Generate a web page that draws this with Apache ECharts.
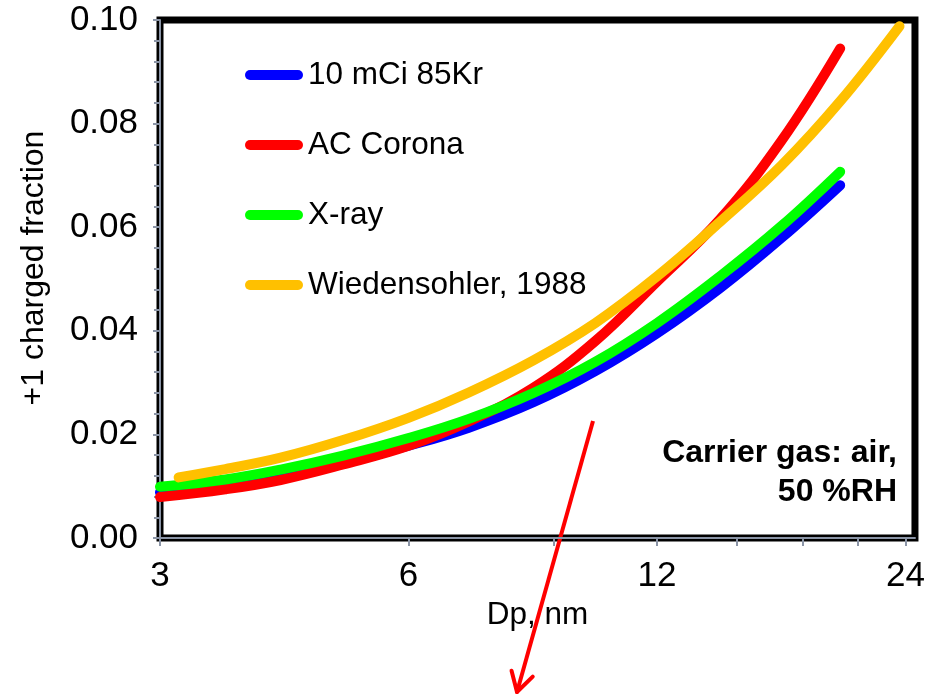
<!DOCTYPE html>
<html>
<head>
<meta charset="utf-8">
<script src="https://cdn.jsdelivr.net/npm/echarts@6/dist/echarts.min.js"></script>
<style>
  html, body { margin: 0; padding: 0; background: #ffffff; }
  #chart { width: 928px; height: 695px; }
</style>
</head>
<body>
<div id="chart"></div>
<script>
// Particle diameter (nm) for the three measured chargers
const dpMeasured = [3, 3.6, 4.2, 5, 6, 7.1, 8.5, 10.1, 12, 14.3, 17, 20];
// +1 charged fraction per charger
const kr85 = [0.0088, 0.0104, 0.0121, 0.0146, 0.0178, 0.0213, 0.0262, 0.0322, 0.0395, 0.0482, 0.0580, 0.0681];
const acCorona = [0.0079, 0.0094, 0.0112, 0.0142, 0.0178, 0.0225, 0.0290, 0.0380, 0.0495, 0.0615, 0.0768, 0.0945];
const xray = [0.0099, 0.0113, 0.0132, 0.0159, 0.0193, 0.0230, 0.0280, 0.0340, 0.0415, 0.0505, 0.0603, 0.0707];
// Wiedensohler (1988) approximation
const dpWied = [3.16, 3.6, 4.2, 5, 6, 7.1, 8.5, 10.1, 12, 14.3, 17, 20, 23.6];
const wied = [0.0117, 0.0133, 0.0155, 0.0189, 0.0232, 0.0281, 0.0343, 0.0415, 0.0505, 0.0610, 0.0720, 0.0843, 0.0988];

const seriesNames = ['10 mCi 85Kr', 'AC Corona', 'X-ray', 'Wiedensohler, 1988'];
const seriesColors = ['#0000ff', '#ff0000', '#00ff00', '#ffc000'];
const xLabelValues = [3, 6, 12, 24];
const xTickValues = [3, 6, 9, 12, 15, 18, 21, 24];
const noteLines = ['Carrier gas: air,', '50 %RH'];

const FONT = '"Liberation Sans", Arial, sans-serif';
const AXIS_GREY = '#8a94a6';

function pairs(xs, ys) { return xs.map((x, i) => [x, ys[i]]); }

const seriesData = [
  pairs(dpMeasured, kr85),
  pairs(dpMeasured, acCorona),
  pairs(dpMeasured, xray),
  pairs(dpWied, wied)
];

const chart = echarts.init(document.getElementById('chart'), null, { renderer: 'canvas' });

// Annotation arrow below the plot
const arrowStart = [593, 421];
const arrowTip = [517, 692];
function arrowHead(len, angDeg) {
  const dx = arrowStart[0] - arrowTip[0], dy = arrowStart[1] - arrowTip[1];
  const L = Math.hypot(dx, dy);
  const ux = dx / L, uy = dy / L;
  const a = angDeg * Math.PI / 180;
  const rx = ux * Math.cos(a) - uy * Math.sin(a);
  const ry = ux * Math.sin(a) + uy * Math.cos(a);
  return [arrowTip[0] + rx * len, arrowTip[1] + ry * len];
}
const headA = arrowHead(22, 30);
const headB = arrowHead(22, -30);

chart.setOption({
  backgroundColor: '#ffffff',
  animation: false,
  grid: {
    left: 160, top: 20, right: 7, bottom: 157,
    show: true,
    borderColor: '#000000',
    borderWidth: 7,
    backgroundColor: '#ffffff'
  },
  legend: {
    orient: 'vertical',
    left: 240,
    top: 54,
    itemWidth: 58,
    itemHeight: 10,
    itemGap: 38,
    icon: 'path://M5 0H53A5 5 0 0 1 53 10H5A5 5 0 0 1 5 0Z',
    data: seriesNames,
    textStyle: { fontFamily: FONT, fontSize: 31.5, color: '#000000', lineHeight: 32 }
  },
  xAxis: {
    type: 'log',
    logBase: 2,
    min: 3,
    max: 24.64,
    z: 3,
    name: 'Dp, nm',
    nameLocation: 'middle',
    nameGap: 47,
    nameTextStyle: { fontFamily: FONT, fontSize: 31.5, color: '#000000' },
    axisLine: { show: true, onZero: false, lineStyle: { color: AXIS_GREY, width: 2 } },
    axisTick: { show: true, inside: false, length: 8, customValues: xTickValues, lineStyle: { color: AXIS_GREY, width: 2 } },
    axisLabel: {
      customValues: xLabelValues,
      margin: 21,
      fontFamily: FONT, fontSize: 35, color: '#000000',
      formatter: v => String(Math.round(v))
    },
    splitLine: { show: false },
    minorTick: { show: false }
  },
  yAxis: {
    type: 'value',
    min: 0,
    max: 0.1,
    interval: 0.02,
    z: 3,
    name: '+1 charged fraction',
    nameLocation: 'middle',
    nameGap: 110,
    nameTextStyle: { fontFamily: FONT, fontSize: 32, color: '#000000', padding: [0, 0, 0, 22] },
    axisLine: { show: true, lineStyle: { color: AXIS_GREY, width: 2 } },
    axisTick: { show: true, inside: false, length: 7, lineStyle: { color: AXIS_GREY, width: 2 } },
    minorTick: { show: true, splitNumber: 5, length: 6, lineStyle: { color: AXIS_GREY, width: 2 } },
    axisLabel: {
      margin: 22,
      fontFamily: FONT, fontSize: 35, color: '#000000',
      formatter: v => v.toFixed(2)
    },
    splitLine: { show: false }
  },
  series: seriesNames.map((name, i) => ({
    name: name,
    type: 'line',
    data: seriesData[i],
    smooth: 0.4,
    symbol: 'none',
    clip: false,
    z: 4 + i,
    color: seriesColors[i],
    lineStyle: { color: seriesColors[i], width: 10, cap: 'round', join: 'round' }
  })),
  graphic: [
    {
      type: 'text',
      x: 897,
      y: 434,
      z: 10,
      style: {
        text: noteLines.join('\n'),
        align: 'right',
        verticalAlign: 'top',
        fontFamily: FONT,
        fontSize: 32,
        fontWeight: 'bold',
        lineHeight: 39,
        fill: '#000000'
      }
    },
    {
      type: 'group',
      z: 20,
      children: [
        { type: 'line', shape: { x1: arrowStart[0], y1: arrowStart[1], x2: arrowTip[0], y2: arrowTip[1] }, style: { stroke: '#ff0000', lineWidth: 4 } },
        { type: 'line', shape: { x1: arrowTip[0], y1: arrowTip[1], x2: headA[0], y2: headA[1] }, style: { stroke: '#ff0000', lineWidth: 4, lineCap: 'round' } },
        { type: 'line', shape: { x1: arrowTip[0], y1: arrowTip[1], x2: headB[0], y2: headB[1] }, style: { stroke: '#ff0000', lineWidth: 4, lineCap: 'round' } }
      ]
    }
  ]
});
</script>
</body>
</html>
